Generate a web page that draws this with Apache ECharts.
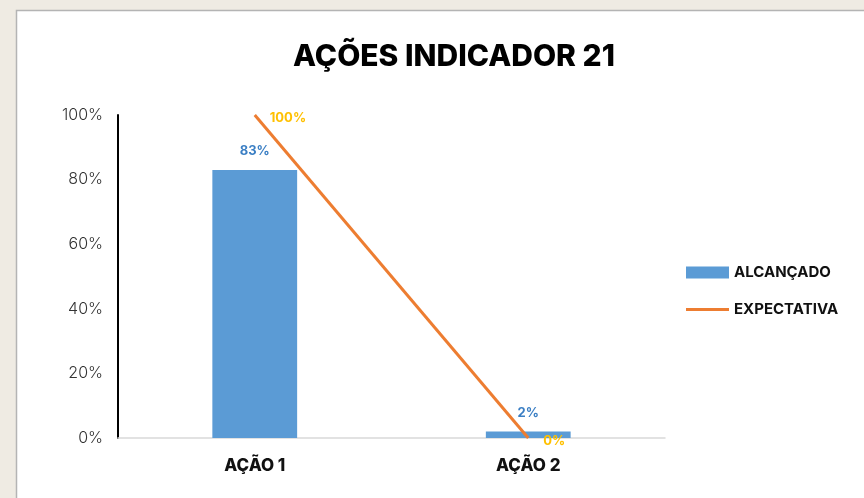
<!DOCTYPE html>
<html><head><meta charset="utf-8">
<script src="https://cdn.jsdelivr.net/npm/echarts@6/dist/echarts.min.js"></script>
<style>html,body{margin:0;padding:0;background:#efebe3;}#c{width:864px;height:498px;}</style>
</head><body><div id="c"></div>
<script>
const categories = ['AÇÃO 1', 'AÇÃO 2'];
const alcancado = [83, 2];
const expectativa = [100, 0];
const yTicks = [0, 20, 40, 60, 80, 100];

const chart = echarts.init(document.getElementById('c'));
chart.setOption({
  backgroundColor: '#efebe3',
  animation: false,
  graphic: [{
    type: 'rect', z: -10, silent: true,
    shape: { x: 16.5, y: 10.5, width: 860, height: 500 },
    style: { fill: '#ffffff', stroke: '#b4b4b4', lineWidth: 1.5 }
  }],
  title: {
    text: 'AÇÕES INDICADOR 21', left: 449, top: 37, textAlign: 'center',
    textStyle: { fontFamily: 'Inter', fontWeight: 800, fontSize: 30, color: '#000' }
  },
  legend: {
    orient: 'vertical', left: 681, top: 260, itemGap: 22, itemWidth: 43, itemHeight: 12,
    textStyle: { fontFamily: 'Inter', fontWeight: 700, fontSize: 15, color: '#111' },
    data: [
      { name: 'ALCANÇADO', icon: 'rect' },
      { name: 'EXPECTATIVA', icon: 'path://M0,0L43,0L43,3L0,3Z', itemStyle: { color: '#ed7d31' } }
    ]
  },
  grid: { left: 118, right: 199, top: 115, bottom: 60 },
  xAxis: {
    type: 'category', data: categories,
    axisLine: { lineStyle: { color: '#d9d9d9', width: 1.5 } },
    axisTick: { show: false },
    axisLabel: { margin: 19, fontFamily: 'Inter', fontWeight: 800, fontSize: 17, color: '#111' }
  },
  yAxis: {
    type: 'value', min: 0, max: 100, interval: 20,
    axisLine: { show: true, lineStyle: { color: '#000', width: 2 } },
    axisTick: { show: false },
    splitLine: { show: false },
    axisLabel: {
      margin: 15, fontFamily: 'Inter', fontWeight: 300, fontSize: 16, color: '#333',
      formatter: v => yTicks.includes(v) ? v + '%' : ''
    }
  },
  series: [
    {
      name: 'ALCANÇADO', type: 'bar', data: alcancado, barWidth: '31%',
      itemStyle: { color: '#5b9bd5' },
      label: { show: true, position: 'top', distance: 12, formatter: '{c}%',
        fontFamily: 'Inter', fontWeight: 700, fontSize: 13, color: '#3b7fc4' }
    },
    {
      name: 'EXPECTATIVA', type: 'line', data: expectativa, symbol: 'circle', symbolSize: 0,
      showSymbol: true,
      lineStyle: { color: '#ed7d31', width: 3 }, itemStyle: { color: '#ed7d31' },
      label: { show: true, position: 'right', distance: 15, offset: [0, 3], formatter: '{c}%',
        fontFamily: 'Inter', fontWeight: 700, fontSize: 13, color: '#ffc000' }
    }
  ]
});
</script></body></html>
